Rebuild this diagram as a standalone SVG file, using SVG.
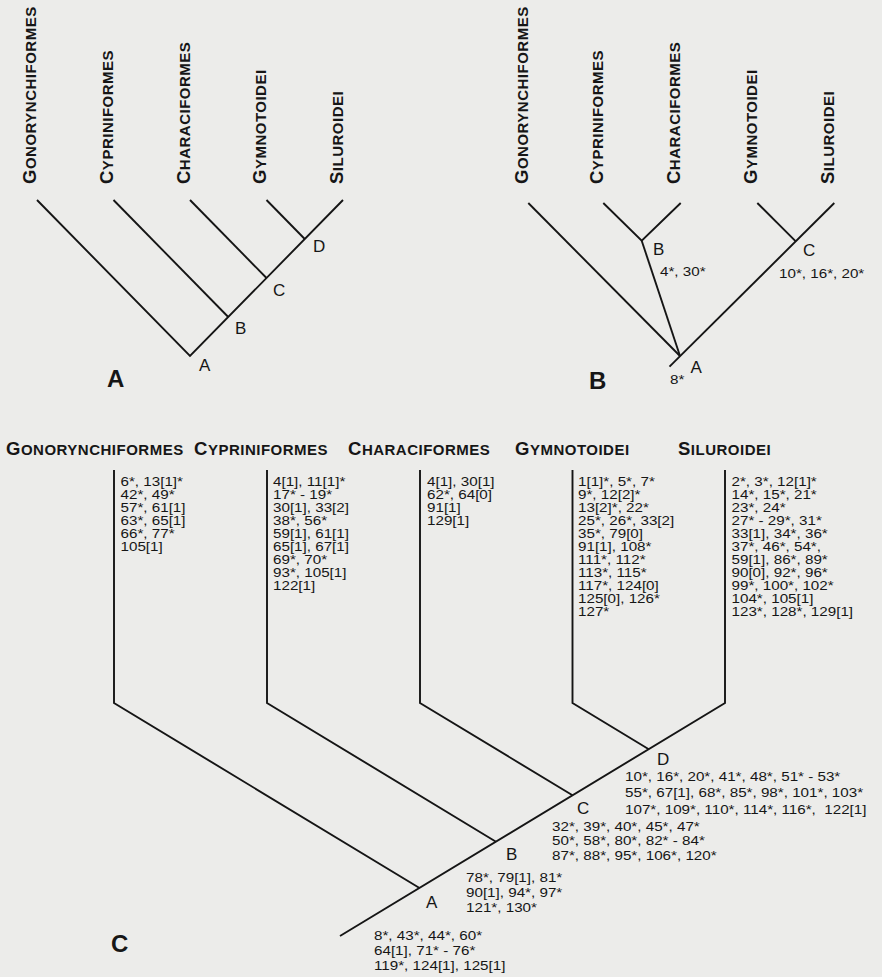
<svg xmlns="http://www.w3.org/2000/svg" width="882" height="977" viewBox="0 0 882 977">
<style>
.ln{stroke:#151515;stroke-width:1.9;fill:none;stroke-linejoin:miter}
.tx{font-family:"Liberation Sans",Arial,Helvetica,sans-serif;fill:#161616}
.hd{font-size:15px;font-weight:bold;letter-spacing:0.5px}
.cp{font-size:18.5px}
.nm{font-size:13px}
.nd{font-size:17px}
.pl{font-size:24px;font-weight:bold}
</style>
<rect width="882" height="977" fill="#ececea"/>

<g id="connectors">
  <!-- tree A -->
  <path class="ln" d="M37,200 L190,356 L343,200"/>
  <path class="ln" d="M113.5,200 L228.25,317"/>
  <path class="ln" d="M190,200 L266.5,278"/>
  <path class="ln" d="M266.5,200 L304.75,239"/>
  <!-- tree B -->
  <path class="ln" d="M528.3,203 L680,356"/>
  <path class="ln" d="M834.3,203 L669.5,366.7"/>
  <path class="ln" d="M603.3,203 L641.7,240.7 L680.7,203"/>
  <path class="ln" d="M641.7,240.7 L680,356"/>
  <path class="ln" d="M757.3,203 L796,241.7"/>
  <!-- tree C -->
  <path class="ln" d="M114,470 V703 L419.5,888"/>
  <path class="ln" d="M267,470 V703 L496,841.7"/>
  <path class="ln" d="M420,470 V703 L572.5,795.3"/>
  <path class="ln" d="M572.5,470 V703 L648.8,749.2"/>
  <path class="ln" d="M725,470 V703 L340,936"/>
</g>

<!-- Tree A -->
<g id="treeA">
  <g id="a-gonorynchiformes"><text class="tx hd" transform="translate(36,184) rotate(-90)"><tspan class="cp">G</tspan>ONORYNCHIFORMES</text></g>
  <g id="a-cypriniformes"><text class="tx hd" transform="translate(113,184) rotate(-90)"><tspan class="cp">C</tspan>YPRINIFORMES</text></g>
  <g id="a-characiformes"><text class="tx hd" transform="translate(190,184) rotate(-90)"><tspan class="cp">C</tspan>HARACIFORMES</text></g>
  <g id="a-gymnotoidei"><text class="tx hd" transform="translate(266,184) rotate(-90)"><tspan class="cp">G</tspan>YMNOTOIDEI</text></g>
  <g id="a-siluroidei"><text class="tx hd" transform="translate(343,184) rotate(-90)"><tspan class="cp">S</tspan>ILUROIDEI</text></g>
  <g id="a-node-A"><text class="tx nd" x="199" y="371">A</text></g>
  <g id="a-node-B"><text class="tx nd" x="235" y="334">B</text></g>
  <g id="a-node-C"><text class="tx nd" x="273" y="296">C</text></g>
  <g id="a-node-D"><text class="tx nd" x="313" y="252">D</text></g>
  <text class="tx pl" x="107" y="387">A</text>
</g>

<!-- Tree B -->
<g id="treeB">
  <g id="b-gonorynchiformes"><text class="tx hd" transform="translate(527.5,184) rotate(-90)"><tspan class="cp">G</tspan>ONORYNCHIFORMES</text></g>
  <g id="b-cypriniformes"><text class="tx hd" transform="translate(603,184) rotate(-90)"><tspan class="cp">C</tspan>YPRINIFORMES</text></g>
  <g id="b-characiformes"><text class="tx hd" transform="translate(680,184) rotate(-90)"><tspan class="cp">C</tspan>HARACIFORMES</text></g>
  <g id="b-gymnotoidei"><text class="tx hd" transform="translate(757,184) rotate(-90)"><tspan class="cp">G</tspan>YMNOTOIDEI</text></g>
  <g id="b-siluroidei"><text class="tx hd" transform="translate(834,184) rotate(-90)"><tspan class="cp">S</tspan>ILUROIDEI</text></g>
  <g id="b-node-B"><text class="tx nd" x="653" y="255">B</text><text class="tx nm" transform="translate(660,276) scale(1.17,1)">4*, 30*</text></g>
  <g id="b-node-C"><text class="tx nd" x="803" y="256">C</text><text class="tx nm" transform="translate(779,278) scale(1.17,1)">10*, 16*, 20*</text></g>
  <g id="b-node-A"><text class="tx nd" x="690.5" y="373">A</text><text class="tx nm" transform="translate(670,384) scale(1.17,1)">8*</text></g>
  <text class="tx pl" x="589" y="389">B</text>
</g>

<!-- Tree C -->
<g id="treeC">
  <g id="c-gonorynchiformes">
    <text class="tx hd" x="6" y="454.5"><tspan class="cp">G</tspan>ONORYNCHIFORMES</text>
    <text class="tx nm" transform="translate(120.5,0) scale(1.17,1)">
      <tspan x="0" y="486.5">6*, 13[1]*</tspan>
      <tspan x="0" y="499.5">42*, 49*</tspan>
      <tspan x="0" y="512.5">57*, 61[1]</tspan>
      <tspan x="0" y="525.5">63*, 65[1]</tspan>
      <tspan x="0" y="538.5">66*, 77*</tspan>
      <tspan x="0" y="551.5">105[1]</tspan>
    </text>
  </g>
  <g id="c-cypriniformes">
    <text class="tx hd" x="194" y="454.5"><tspan class="cp">C</tspan>YPRINIFORMES</text>
    <text class="tx nm" transform="translate(273,0) scale(1.17,1)">
      <tspan x="0" y="486.5">4[1], 11[1]*</tspan>
      <tspan x="0" y="499.5">17* - 19*</tspan>
      <tspan x="0" y="512.5">30[1], 33[2]</tspan>
      <tspan x="0" y="525.5">38*, 56*</tspan>
      <tspan x="0" y="538.5">59[1], 61[1]</tspan>
      <tspan x="0" y="551.5">65[1], 67[1]</tspan>
      <tspan x="0" y="564.5">69*, 70*</tspan>
      <tspan x="0" y="577.5">93*, 105[1]</tspan>
      <tspan x="0" y="590.5">122[1]</tspan>
    </text>
  </g>
  <g id="c-characiformes">
    <text class="tx hd" x="348" y="454.5"><tspan class="cp">C</tspan>HARACIFORMES</text>
    <text class="tx nm" transform="translate(427,0) scale(1.17,1)">
      <tspan x="0" y="486.5">4[1], 30[1]</tspan>
      <tspan x="0" y="499.5">62*, 64[0]</tspan>
      <tspan x="0" y="512.5">91[1]</tspan>
      <tspan x="0" y="525.5">129[1]</tspan>
    </text>
  </g>
  <g id="c-gymnotoidei">
    <text class="tx hd" x="515" y="454.5"><tspan class="cp">G</tspan>YMNOTOIDEI</text>
    <text class="tx nm" transform="translate(578,0) scale(1.17,1)">
      <tspan x="0" y="486.5">1[1]*, 5*, 7*</tspan>
      <tspan x="0" y="499.5">9*, 12[2]*</tspan>
      <tspan x="0" y="512.5">13[2]*, 22*</tspan>
      <tspan x="0" y="525.5">25*, 26*, 33[2]</tspan>
      <tspan x="0" y="538.5">35*, 79[0]</tspan>
      <tspan x="0" y="551.5">91[1], 108*</tspan>
      <tspan x="0" y="564.5">111*, 112*</tspan>
      <tspan x="0" y="577.5">113*, 115*</tspan>
      <tspan x="0" y="590.5">117*, 124[0]</tspan>
      <tspan x="0" y="603.5">125[0], 126*</tspan>
      <tspan x="0" y="616.5">127*</tspan>
    </text>
  </g>
  <g id="c-siluroidei">
    <text class="tx hd" x="678" y="454.5"><tspan class="cp">S</tspan>ILUROIDEI</text>
    <text class="tx nm" transform="translate(731.5,0) scale(1.17,1)">
      <tspan x="0" y="486.5">2*, 3*, 12[1]*</tspan>
      <tspan x="0" y="499.5">14*, 15*, 21*</tspan>
      <tspan x="0" y="512.5">23*, 24*</tspan>
      <tspan x="0" y="525.5">27* - 29*, 31*</tspan>
      <tspan x="0" y="538.5">33[1], 34*, 36*</tspan>
      <tspan x="0" y="551.5">37*, 46*, 54*,</tspan>
      <tspan x="0" y="564.5">59[1], 86*, 89*</tspan>
      <tspan x="0" y="577.5">90[0], 92*, 96*</tspan>
      <tspan x="0" y="590.5">99*, 100*, 102*</tspan>
      <tspan x="0" y="603.5">104*, 105[1]</tspan>
      <tspan x="0" y="616.5">123*, 128*, 129[1]</tspan>
    </text>
  </g>
  <g id="c-node-D">
    <text class="tx nd" x="657" y="765">D</text>
    <text class="tx nm" xml:space="preserve" transform="translate(625,0) scale(1.17,1)"><tspan x="0" y="781">10*, 16*, 20*, 41*, 48*, 51* - 53*</tspan><tspan x="0" y="797.3">55*, 67[1], 68*, 85*, 98*, 101*, 103*</tspan><tspan x="0" y="813.6">107*, 109*, 110*, 114*, 116*,  122[1]</tspan></text>
  </g>
  <g id="c-node-C">
    <text class="tx nd" x="577" y="814">C</text>
    <text class="tx nm" transform="translate(552,0) scale(1.17,1)">
      <tspan x="0" y="831">32*, 39*, 40*, 45*, 47*</tspan>
      <tspan x="0" y="845.5">50*, 58*, 80*, 82* - 84*</tspan>
      <tspan x="0" y="860">87*, 88*, 95*, 106*, 120*</tspan>
    </text>
  </g>
  <g id="c-node-B">
    <text class="tx nd" x="506" y="860">B</text>
    <text class="tx nm" transform="translate(466,0) scale(1.17,1)">
      <tspan x="0" y="882.5">78*, 79[1], 81*</tspan>
      <tspan x="0" y="897">90[1], 94*, 97*</tspan>
      <tspan x="0" y="912.5">121*, 130*</tspan>
    </text>
  </g>
  <g id="c-node-A">
    <text class="tx nd" x="426" y="907.5">A</text>
    <text class="tx nm" transform="translate(374,0) scale(1.17,1)">
      <tspan x="0" y="940">8*, 43*, 44*, 60*</tspan>
      <tspan x="0" y="955">64[1], 71* - 76*</tspan>
      <tspan x="0" y="970">119*, 124[1], 125[1]</tspan>
    </text>
  </g>
  <text class="tx pl" x="111" y="952">C</text>
</g>
</svg>
